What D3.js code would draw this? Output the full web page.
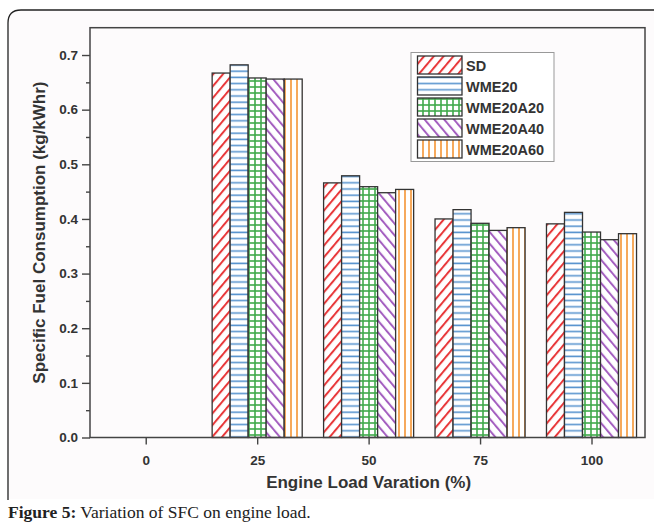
<!DOCTYPE html>
<html><head><meta charset="utf-8">
<script src="https://cdn.jsdelivr.net/npm/d3@7"></script>
<style>body{margin:0;background:#fff}svg{display:block}</style>
</head><body>
<svg id="c" width="654" height="522"></svg>
<script>
const categories = [0, 25, 50, 75, 100];
const seriesNames = ["SD", "WME20", "WME20A20", "WME20A40", "WME20A60"];
const SD       = [null, 0.667, 0.466, 0.400, 0.391];
const WME20    = [null, 0.682, 0.479, 0.417, 0.412];
const WME20A20 = [null, 0.658, 0.459, 0.392, 0.376];
const WME20A40 = [null, 0.656, 0.448, 0.379, 0.362];
const WME20A60 = [null, 0.656, 0.454, 0.384, 0.373];
const yTicks = [0, 0.1, 0.2, 0.3, 0.4, 0.5, 0.6, 0.7];
const seriesVals = [SD, WME20, WME20A20, WME20A40, WME20A60];
const colors = ["#e8383a", "#5a95cf", "#3fa94a", "#a45fc0", "#f5a04a"];

const svg = d3.select("#c");
const defs = svg.append("defs");
function pat(id, size, draw, transform) {
  const p = defs.append("pattern").attr("id", id).attr("patternUnits", "userSpaceOnUse")
    .attr("width", size).attr("height", size);
  if (transform) p.attr("patternTransform", transform);
  p.append("rect").attr("width", size).attr("height", size).attr("fill", "#fff");
  draw(p);
}
pat("p0", 7.5, p => p.append("line").attr("x1", 1).attr("y1", 0).attr("x2", 1).attr("y2", 7.5).attr("stroke", colors[0]).attr("stroke-width", 2), "rotate(40)");
pat("p1", 6.2, p => p.append("line").attr("x1", 0).attr("y1", 3).attr("x2", 6.2).attr("y2", 3).attr("stroke", colors[1]).attr("stroke-width", 1.6));
pat("p2", 6, p => { p.append("line").attr("x1", 0).attr("y1", 3).attr("x2", 6).attr("y2", 3).attr("stroke", colors[2]).attr("stroke-width", 1.6);
  p.append("line").attr("x1", 3).attr("y1", 0).attr("x2", 3).attr("y2", 6).attr("stroke", colors[2]).attr("stroke-width", 1.6); });
pat("p3", 7.5, p => p.append("line").attr("x1", 1).attr("y1", 0).attr("x2", 1).attr("y2", 7.5).attr("stroke", colors[3]).attr("stroke-width", 2), "rotate(-40)");
pat("p4", 6, p => p.append("line").attr("x1", 3).attr("y1", 0).attr("x2", 3).attr("y2", 6).attr("stroke", colors[4]).attr("stroke-width", 1.8));

// panel border
svg.append("rect").attr("x", 9).attr("y", 11).attr("width", 660).attr("height", 488).attr("fill", "#fdfbfc");
svg.append("path").attr("d", "M8,500 L8,23 Q8,10 21,10 L660,10").attr("fill", "none").attr("stroke", "#222").attr("stroke-width", 1.3);

const x = d3.scaleLinear().domain([-12.5, 112]).range([90, 645]);
const y = d3.scaleLinear().domain([0, 0.75]).range([437.5, 27.7]);
const groupW = 20.2, barW = groupW / 5;

seriesVals.forEach((vals, si) => {
  svg.append("g").selectAll("rect").data(categories.map((c, i) => ({c, v: vals[i]})).filter(d => d.v != null))
    .join("rect")
    .attr("x", d => x(d.c - groupW / 2 + si * barW))
    .attr("width", d => x(barW) - x(0))
    .attr("y", d => y(d.v))
    .attr("height", d => y(0) - y(d.v))
    .attr("fill", `url(#p${si})`)
    .attr("stroke", "#333").attr("stroke-width", 1.3);
});

svg.append("rect").attr("x", x(-12.5)).attr("y", y(0.75)).attr("width", x(112) - x(-12.5)).attr("height", y(0) - y(0.75))
  .attr("fill", "none").attr("stroke", "#444").attr("stroke-width", 1.5);

const font = "Liberation Sans, Arial, sans-serif";
const ya = svg.append("g").attr("transform", `translate(${x(-12.5)},0)`)
  .call(d3.axisLeft(y).tickValues(yTicks).tickFormat(d3.format(".1f")).tickSize(8).tickPadding(4));
ya.append("g").call(d3.axisLeft(y).tickValues(d3.range(0.05, 0.75, 0.1)).tickSize(4).tickFormat(""));
const xa = svg.append("g").attr("transform", `translate(0,${y(0)})`)
  .call(d3.axisBottom(x).tickValues(categories).tickFormat(d3.format("d")).tickSize(7).tickPadding(10.5));
[ya, xa].forEach(a => {
  a.selectAll(".domain").remove();
  a.selectAll("line").attr("stroke", "#444").attr("stroke-width", 1.4);
  a.selectAll("text").attr("font-family", font).attr("font-weight", "bold").attr("font-size", 13.5).attr("fill", "#333");
});

svg.append("text").attr("x", x(50)).attr("y", 488).attr("text-anchor", "middle")
  .attr("font-family", font).attr("font-weight", "bold").attr("font-size", 17).attr("fill", "#333")
  .text("Engine Load Varation (%)");
svg.append("text").attr("transform", `translate(45,${y(0.375)}) rotate(-90)`).attr("text-anchor", "middle")
  .attr("font-family", font).attr("font-weight", "bold").attr("font-size", 17).attr("fill", "#333")
  .text("Specific Fuel Consumption (kg/kWhr)");

const lg = svg.append("g");
lg.append("rect").attr("x", 411).attr("y", 52.5).attr("width", 143).attr("height", 109).attr("fill", "#fff").attr("stroke", "#999").attr("stroke-width", 1);
seriesNames.forEach((n, i) => {
  const yy = 56 + i * 21;
  lg.append("rect").attr("x", 417.5).attr("y", yy).attr("width", 44.5).attr("height", 18)
    .attr("fill", `url(#p${i})`).attr("stroke", "#333").attr("stroke-width", 1.3);
  lg.append("text").attr("x", 466).attr("y", yy + 14.5).attr("font-family", font).attr("font-weight", "bold")
    .attr("font-size", 14.5).attr("fill", "#333").text(n);
});

const cap = svg.append("text").attr("x", 8).attr("y", 518).attr("font-family", "Liberation Serif, serif").attr("font-size", 17.5).attr("fill", "#222");
cap.append("tspan").attr("font-weight", "bold").text("Figure 5:");
cap.append("tspan").text(" Variation of SFC on engine load.");
</script>
</body></html>
